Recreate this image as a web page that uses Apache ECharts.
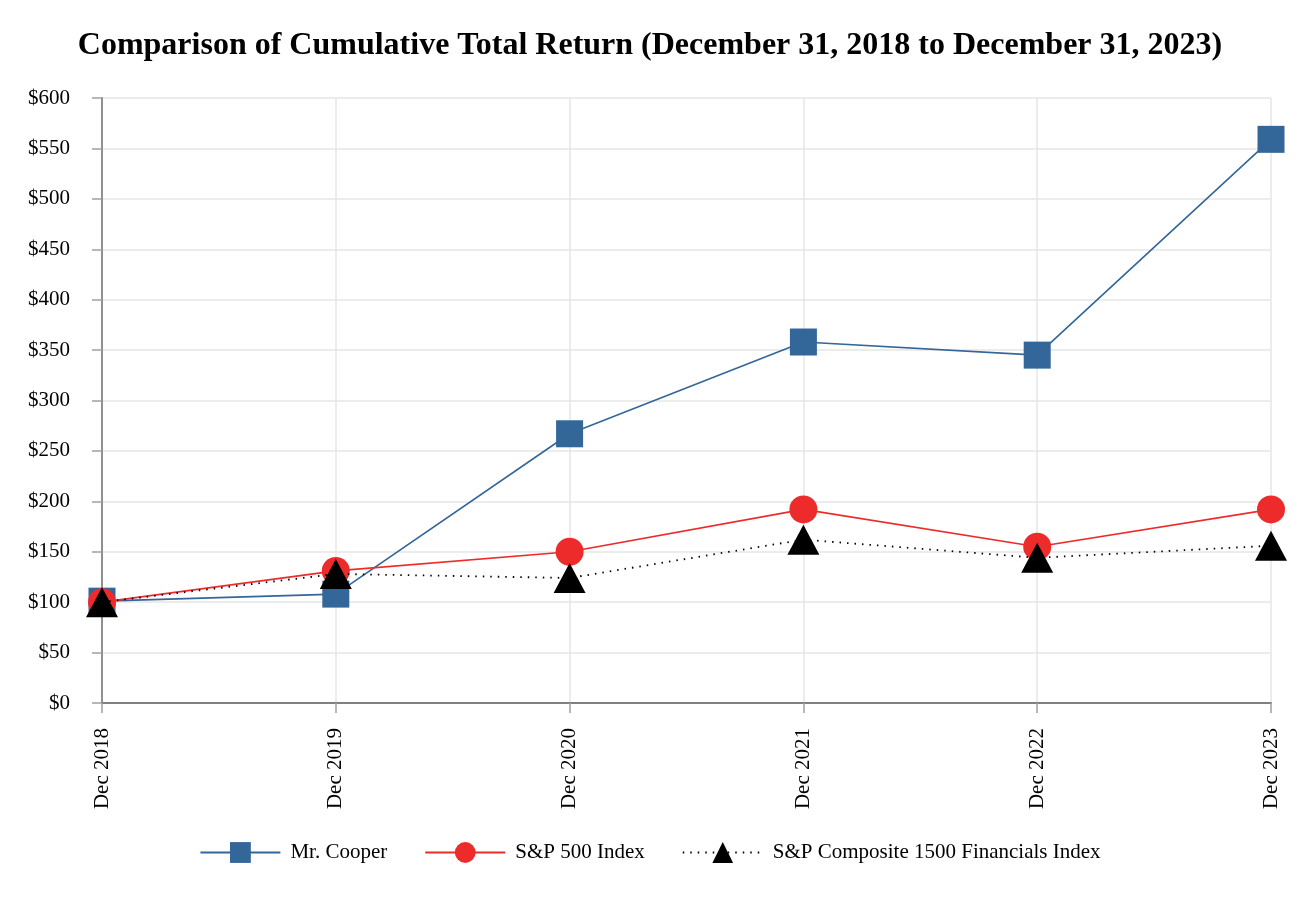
<!DOCTYPE html>
<html><head><meta charset="utf-8">
<script src="https://cdn.jsdelivr.net/npm/echarts@6/dist/echarts.min.js"></script>
<style>html,body{margin:0;padding:0;background:#fff}#c{width:1300px;height:900px}</style>
</head><body><div id="c"></div>
<script>
const categories = ['Dec 2018','Dec 2019','Dec 2020','Dec 2021','Dec 2022','Dec 2023'];
const mrCooper = [101, 108, 267, 358, 345, 559];
const sp500 = [100, 131, 150, 192, 155, 192];
const spFinancials = [100, 128, 124, 162, 144, 156];
const font = 'Liberation Serif, Times New Roman, serif';
const chart = echarts.init(document.getElementById('c'));
chart.setOption({
  animation: false,
  title: {text: 'Comparison of Cumulative Total Return (December 31, 2018 to December 31, 2023)', left: 'center', top: 25,
    textStyle: {fontFamily: font, fontSize: 32, fontWeight: 'bold', color: '#000'}},
  grid: {left: 102, right: 29, top: 98, bottom: 197},
  legend: {bottom: 32, left: 'center', itemWidth: 80, itemHeight: 26, itemGap: 37,
    textStyle: {fontFamily: font, fontSize: 21, color: '#000', padding: [0, 0, 0, 5]},
    data: ['Mr. Cooper','S&P 500 Index','S&P Composite 1500 Financials Index']},
  xAxis: {type: 'category', data: categories, boundaryGap: false,
    axisLine: {lineStyle: {color: '#808080', width: 2}},
    axisTick: {show: true, length: 10, lineStyle: {color: '#a0a0a0', width: 1.5}},
    splitLine: {show: true, lineStyle: {color: '#e6e6e6', width: 1.5}},
    axisLabel: {rotate: 90, fontFamily: font, fontSize: 21, color: '#000', margin: 25}},
  yAxis: {type: 'value', min: 0, max: 600, interval: 50,
    axisLine: {show: true, lineStyle: {color: '#909090', width: 2}},
    axisTick: {show: true, length: 10, lineStyle: {color: '#a0a0a0', width: 1.5}},
    splitLine: {lineStyle: {color: '#e6e6e6', width: 1.5}},
    axisLabel: {formatter: '${value}', fontFamily: font, fontSize: 21, color: '#000', margin: 32}},
  series: [
    {name: 'Mr. Cooper', type: 'line', data: mrCooper, symbol: 'rect', symbolSize: 27,
      lineStyle: {color: '#336699', width: 1.6}, itemStyle: {color: '#336699'}, z: 2},
    {name: 'S&P 500 Index', type: 'line', data: sp500, symbol: 'circle', symbolSize: 28,
      lineStyle: {color: '#ee2b2b', width: 1.6}, itemStyle: {color: '#ee2b2b'}, z: 3},
    {name: 'S&P Composite 1500 Financials Index', type: 'line', data: spFinancials, symbol: 'triangle', symbolSize: [32, 30],
      lineStyle: {color: '#000', width: 1.8, type: [1.5, 6]}, itemStyle: {color: '#000'}, z: 4}
  ]
});
</script></body></html>
